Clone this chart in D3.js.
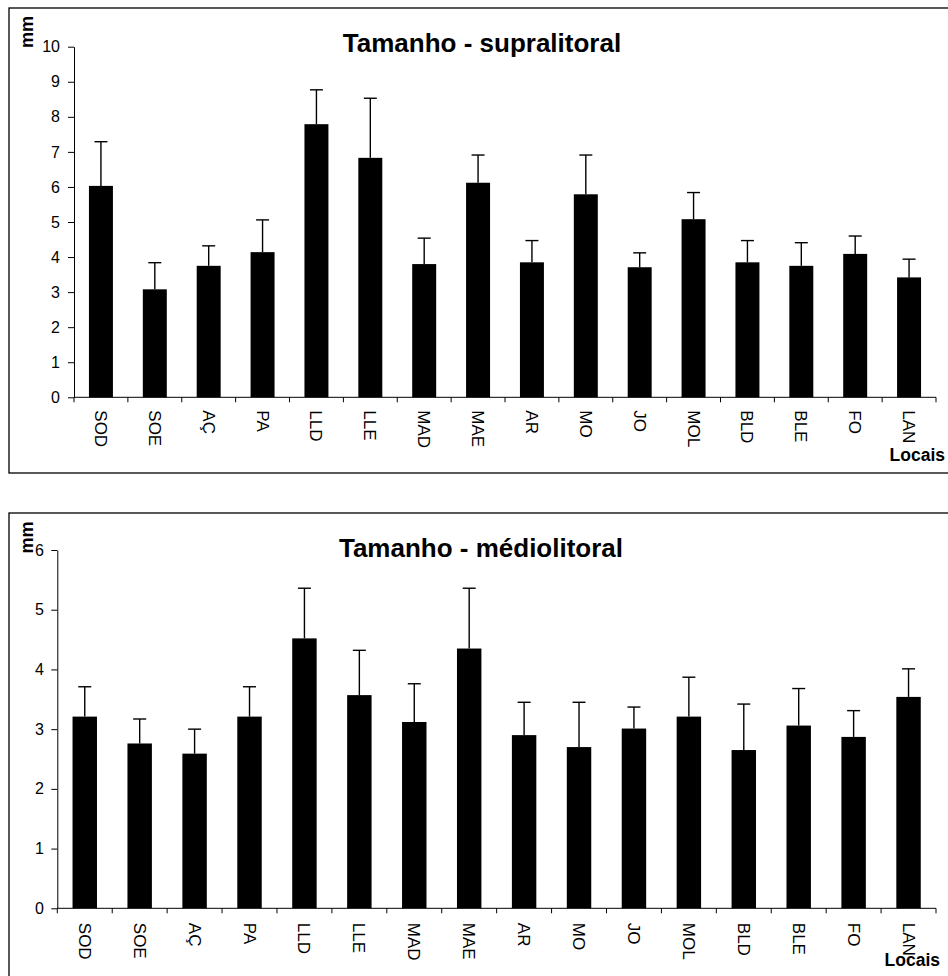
<!DOCTYPE html>
<html>
<head>
<meta charset="utf-8">
<script src="https://cdn.jsdelivr.net/npm/d3@7"></script>
<style>
  html, body { margin: 0; padding: 0; background: #fff; }
  svg { display: block; font-family: "Liberation Sans", Arial, sans-serif; }
</style>
</head>
<body>
<svg id="chart" width="948" height="976"></svg>
<script>
// ---- Data ----
const locais = ["SOD","SOE","AÇ","PA","LLD","LLE","MAD","MAE","AR","MO","JO","MOL","BLD","BLE","FO","LAN"];

const supraMeans = [6.03, 3.08, 3.75, 4.14, 7.79, 6.83, 3.80, 6.12, 3.85, 5.79, 3.71, 5.08, 3.85, 3.75, 4.09, 3.42];
const supraErr   = [1.26, 0.76, 0.57, 0.92, 0.98, 1.70, 0.74, 0.79, 0.62, 1.12, 0.41, 0.76, 0.62, 0.66, 0.51, 0.52];
const supraTicks = [0, 1, 2, 3, 4, 5, 6, 7, 8, 9, 10];

const medioMeans = [3.21, 2.76, 2.59, 3.21, 4.52, 3.57, 3.12, 4.35, 2.90, 2.70, 3.01, 3.21, 2.65, 3.06, 2.87, 3.54];
const medioErr   = [0.50, 0.41, 0.41, 0.50, 0.84, 0.75, 0.64, 1.01, 0.55, 0.75, 0.36, 0.66, 0.77, 0.62, 0.44, 0.47];
const medioTicks = [0, 1, 2, 3, 4, 5, 6];

const titles = ["Tamanho - supralitoral", "Tamanho - médiolitoral"];
const yLabel = "mm";
const xLabel = "Locais";

// ---- Drawing ----
const svg = d3.select("#chart");

function drawPanel(cfg) {
  const g = svg.append("g");
  // frame
  g.append("rect")
    .attr("x", cfg.box.x).attr("y", cfg.box.y)
    .attr("width", cfg.box.w).attr("height", cfg.box.h)
    .attr("fill", "#fff").attr("stroke", "#000").attr("stroke-width", 1.3);

  const x = d3.scaleBand().domain(locais)
    .range([cfg.x0, cfg.x1]).paddingInner(0.555).paddingOuter(0.2775);
  const y = d3.scaleLinear().domain([0, d3.max(cfg.ticks)]).range([cfg.yb, cfg.yt]);

  const data = locais.map((k, i) => ({k, m: cfg.means[i], e: cfg.err[i]}));

  // bars
  g.selectAll("rect.bar").data(data).join("rect")
    .attr("class", "bar")
    .attr("x", d => x(d.k)).attr("width", x.bandwidth())
    .attr("y", d => y(d.m)).attr("height", d => y(0) - y(d.m))
    .attr("fill", "#000");

  // error bars
  const cap = 6.5;
  g.selectAll("line.err").data(data).join("line")
    .attr("class", "err")
    .attr("x1", d => x(d.k) + x.bandwidth() / 2).attr("x2", d => x(d.k) + x.bandwidth() / 2)
    .attr("y1", d => y(d.m)).attr("y2", d => y(d.m + d.e))
    .attr("stroke", "#000").attr("stroke-width", 1.4);
  g.selectAll("line.cap").data(data).join("line")
    .attr("class", "cap")
    .attr("x1", d => x(d.k) + x.bandwidth() / 2 - cap).attr("x2", d => x(d.k) + x.bandwidth() / 2 + cap)
    .attr("y1", d => y(d.m + d.e)).attr("y2", d => y(d.m + d.e))
    .attr("stroke", "#000").attr("stroke-width", 1.4);

  // y axis
  const ya = g.append("g").attr("transform", `translate(${cfg.x0},0)`)
    .call(d3.axisLeft(y).tickValues(cfg.ticks).tickFormat(d3.format("d"))
      .tickSize(6).tickSizeOuter(0).tickPadding(cfg.yPad));
  ya.selectAll("text").attr("font-size", 16).attr("fill", "#000")
    .attr("font-family", "'Liberation Sans', Arial, sans-serif");
  ya.selectAll("line, path").attr("stroke", "#000");

  // x axis: line, boundary ticks, rotated labels
  const xa = g.append("g").attr("transform", `translate(0,${cfg.yb})`);
  xa.append("line").attr("x1", cfg.x0).attr("x2", cfg.x1).attr("y1", 0).attr("y2", 0)
    .attr("stroke", "#000").attr("stroke-width", 1);
  const half = x.step() / 2;
  const bounds = locais.map(k => x(k) + x.bandwidth() / 2 - half).concat([cfg.x1]);
  xa.selectAll("line.xt").data(bounds).join("line").attr("class", "xt")
    .attr("x1", d => d).attr("x2", d => d).attr("y1", 0).attr("y2", 5)
    .attr("stroke", "#000");
  xa.selectAll("text.xl").data(locais).join("text").attr("class", "xl")
    .attr("transform", d => `translate(${x(d) + x.bandwidth() / 2},${cfg.labOff}) rotate(90)`)
    .attr("dy", "0.35em")
    .attr("text-anchor", "start")
    .attr("font-size", 17).attr("fill", "#000")
    .text(d => d);

  // title
  g.append("text").attr("x", cfg.titleX).attr("y", cfg.titleY)
    .attr("text-anchor", "middle").attr("font-size", 26).attr("font-weight", "bold")
    .attr("fill", "#000").text(cfg.title);

  // y label
  g.append("text")
    .attr("transform", `translate(33,${cfg.mmY}) rotate(-90)`)
    .attr("text-anchor", "middle").attr("font-size", 18).attr("font-weight", "bold")
    .attr("fill", "#000").text(yLabel);

  // x label
  g.append("text").attr("x", cfg.locX).attr("y", cfg.locY)
    .attr("text-anchor", "end").attr("font-size", 17.5).attr("font-weight", "bold")
    .attr("fill", "#000").text(xLabel);
}

drawPanel({
  box: {x: 9, y: 8, w: 945, h: 465},
  x0: 74, x1: 936, yb: 397.3, yt: 46.7,
  means: supraMeans, err: supraErr, ticks: supraTicks,
  yPad: 8, labOff: 13,
  title: titles[0], titleX: 482, titleY: 52,
  mmY: 32, locX: 945, locY: 461
});

drawPanel({
  box: {x: 9, y: 513, w: 945, h: 470},
  x0: 57.3, x1: 936, yb: 908.3, yt: 550,
  means: medioMeans, err: medioErr, ticks: medioTicks,
  yPad: 7.5, labOff: 14.5,
  title: titles[1], titleX: 481, titleY: 557,
  mmY: 537.5, locX: 940, locY: 966
});
</script>
</body>
</html>
